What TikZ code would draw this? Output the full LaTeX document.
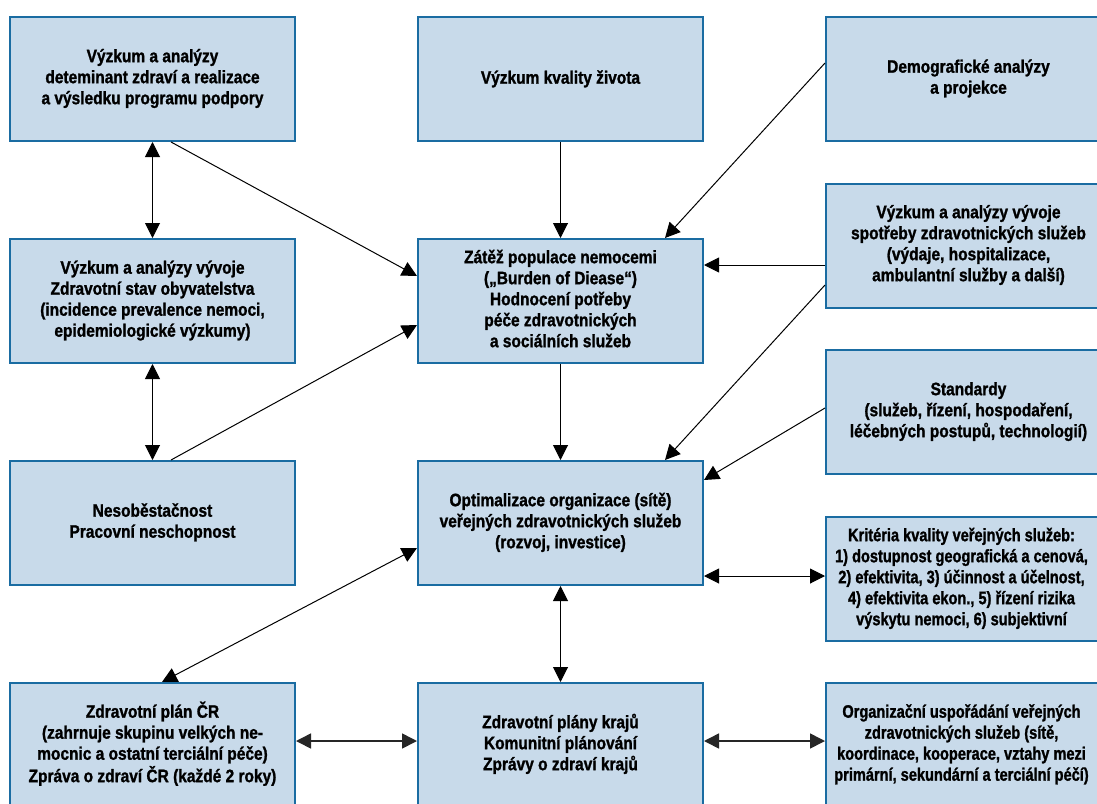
\documentclass[tikz,border=0pt]{standalone}
\usepackage{fontspec}
\newfontfamily\bx{Liberation Sans}[UprightFont={* Bold}, FakeStretch=0.86, FakeBold=1.3]
\newfontfamily\bxn{Liberation Sans}[UprightFont={* Bold}, FakeStretch=0.81, FakeBold=1.3]
\usetikzlibrary{arrows.meta}
\definecolor{boxfill}{HTML}{C8DAEA}
\definecolor{boxline}{HTML}{1A6CA2}
\tikzset{
  box/.style={draw=boxline, line width=2pt, fill=boxfill, minimum width=285pt, minimum height=124pt,
    inner sep=0pt, align=center, font=\bx\fontsize{18}{21}\selectfont},
  narrowbox/.style={box, font=\bxn\fontsize{18}{21}\selectfont},
  arr/.style={line width=1pt, -{Triangle[length=15pt,width=15pt]}},
  darr/.style={line width=1pt, {Triangle[length=15pt,width=15pt]}-{Triangle[length=15pt,width=15pt]}},
  harr/.style={line width=1.6pt, draw=black!85, {Triangle[length=15pt,width=15pt]}-{Triangle[length=15pt,width=15pt]}}
}
\begin{document}
\begin{tikzpicture}[x=1pt,y=-1pt]
\useasboundingbox (0,0) rectangle (1097,803);
\clip (0,0) rectangle (1097,803);
\fill[white] (0,0) rectangle (1097,803);
% row 1
\node[box] (A) at (152.5,79) {\raisebox{4pt}{\begin{tabular}{@{}c@{}}Výzkum a analýzy\\deteminant zdraví a realizace\\a výsledku programu podpory\end{tabular}}};
\node[box] (K) at (560.5,79) {\raisebox{4pt}{Výzkum kvality života}};
\node[box] (D) at (968.5,79) {\raisebox{4pt}{\begin{tabular}{@{}c@{}}Demografické analýzy\\a projekce\end{tabular}}};
% row 2
\node[box] (B) at (152.5,301) {\begin{tabular}{@{}c@{}}Výzkum a analýzy vývoje\\Zdravotní stav obyvatelstva\\(incidence prevalence nemoci,\\epidemiologické výzkumy)\end{tabular}};
\node[box] (Z) at (560.5,301) {\begin{tabular}{@{}c@{}}Zátěž populace nemocemi\\(„Burden of Diease“)\\Hodnocení potřeby\\péče zdravotnických\\a sociálních služeb\end{tabular}};
\node[box] (S) at (968.5,245.5) {\begin{tabular}{@{}c@{}}Výzkum a analýzy vývoje\\spotřeby zdravotnických služeb\\(výdaje, hospitalizace,\\ambulantní služby a další)\end{tabular}};
% row 3
\node[box] (St) at (968.5,412) {\raisebox{4pt}{\begin{tabular}{@{}c@{}}Standardy\\(služeb, řízení, hospodaření,\\léčebných postupů, technologií)\end{tabular}}};
\node[box] (N) at (152.5,523) {\raisebox{7pt}{\begin{tabular}{@{}c@{}}Nesoběstačnost\\Pracovní neschopnost\end{tabular}}};
\node[box] (O) at (560.5,523) {\raisebox{3pt}{\begin{tabular}{@{}c@{}}Optimalizace organizace (sítě)\\veřejných zdravotnických služeb\\(rozvoj, investice)\end{tabular}}};
\node[narrowbox] (Kr) at (968.5,579) {\hspace*{-14pt}\begin{tabular}{@{}c@{}}Kritéria kvality veřejných služeb:\\1) dostupnost geografická a cenová,\\2) efektivita, 3) účinnost a účelnost,\\4) efektivita ekon., 5) řízení rizika\\výskytu nemoci, 6) subjektivní\end{tabular}};
% row 4
\node[box] (P) at (152.5,745) {\raisebox{6pt}{\begin{tabular}{@{}c@{}}Zdravotní plán ČR\\(zahrnuje skupinu velkých ne-\\mocnic a ostatní terciální péče)\\Zpráva o zdraví ČR (každé 2 roky)\end{tabular}}};
\node[box] (R) at (560.5,745) {\raisebox{3pt}{\begin{tabular}{@{}c@{}}Zdravotní plány krajů\\Komunitní plánování\\Zprávy o zdraví krajů\end{tabular}}};
\node[narrowbox] (Og) at (968.5,745) {\hspace*{-14pt}\begin{tabular}{@{}c@{}}Organizační uspořádání veřejných\\zdravotnických služeb (sítě,\\koordinace, kooperace, vztahy mezi\\primární, sekundární a terciální péčí)\end{tabular}};
% connectors
\draw[darr] (A.south) -- (B.north);
\draw[darr] (B.south) -- (N.north);
\draw[arr] ([xshift=18.5pt]A.south) -- ([yshift=25pt]Z.west);
\draw[arr] ([xshift=18.5pt]N.north) -- ([yshift=-24pt]Z.west);
\draw[arr] (K.south) -- (Z.north);
\draw[arr] ([yshift=16pt]D.west) -- ([xshift=104.5pt]Z.north);
\draw[arr] ([yshift=-19.5pt]S.west) coordinate (s1) -- (s1 -| Z.east);
\draw[arr] ([yshift=-39.5pt]S.west) -- ([xshift=104.5pt]O.north);
\draw[arr] (Z.south) -- (O.north);
\draw[arr] ([yshift=4pt]St.west) -- ([yshift=43pt]O.east);
\draw[darr] ([yshift=-53pt]O.east) coordinate (o1) -- (o1 -| Kr.west);
\draw[darr] ([yshift=-25pt]O.west) -- ([xshift=9.5pt]P.north);
\draw[darr] (O.south) -- (R.north);
\draw[harr] ([yshift=4pt]P.east) coordinate (p1) -- (p1 -| R.west);
\draw[harr] ([yshift=4pt]R.east) coordinate (r1) -- (r1 -| Og.west);
\end{tikzpicture}
\end{document}
